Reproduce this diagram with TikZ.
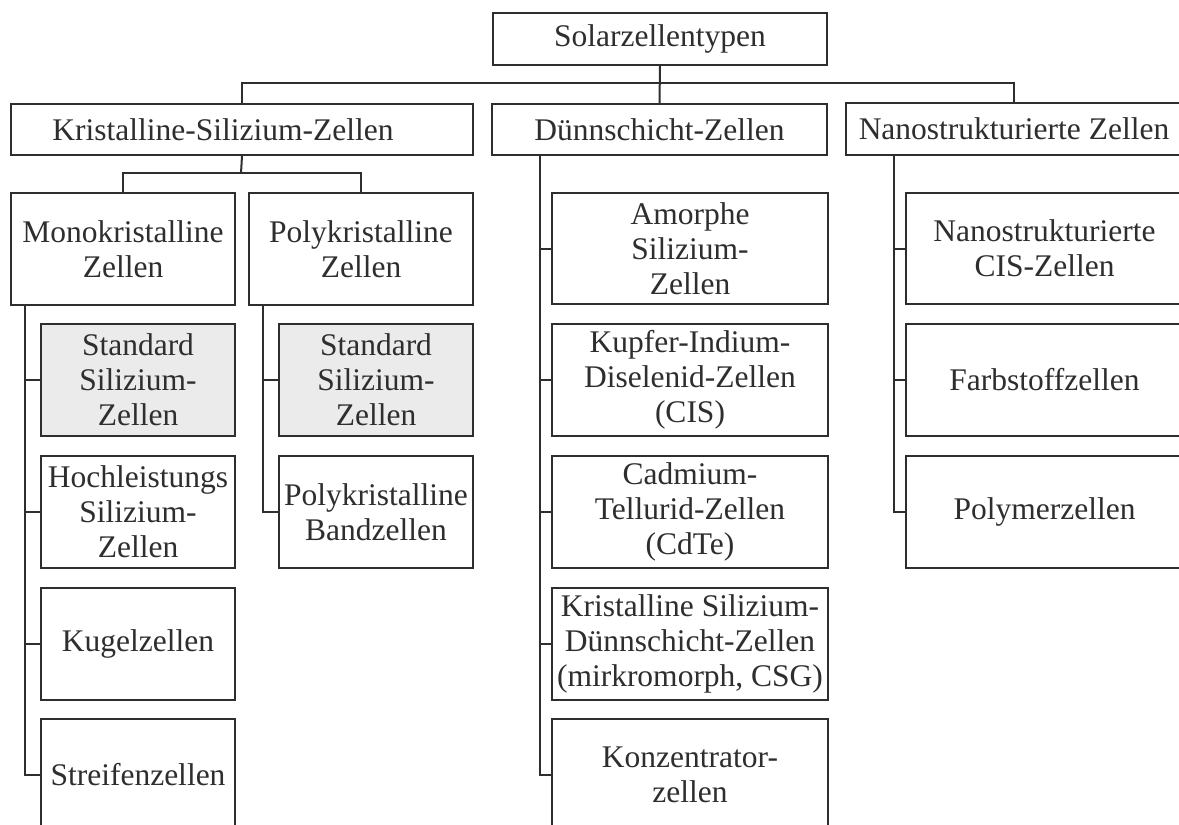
\documentclass[tikz,border=0pt]{standalone}
\usepackage{fontspec}
\setmainfont{Liberation Serif}
\definecolor{ink}{HTML}{2E2E2E}
\definecolor{shade}{HTML}{EAEBEA}
\tikzset{
  box/.style={draw=ink, line width=2pt, fill=white, inner sep=0pt,
    align=center, text=ink, anchor=north west,
    font=\fontsize{31.5}{35}\selectfont},
  shadedbox/.style={box, fill=shade},
  link/.style={draw=ink, line width=2pt},
}
\begin{document}
\begin{tikzpicture}[x=1pt,y=-1pt]
\useasboundingbox (0,0) rectangle (1179,825);
\fill[white] (0,0) rectangle (1179,825);
\clip (0,0) rectangle (1179,825);

% root and first level
\node[box, minimum width=334pt, minimum height=52pt] (top) at (492,12) {Solarzellentypen};
\node[box, minimum width=462pt, minimum height=51pt] (kri) at (10,103) {Kristalline-Silizium-Zellen\hspace*{38pt}};
\node[box, minimum width=335pt, minimum height=51pt] (dun) at (491,103) {Dünnschicht-Zellen};
\node[box, minimum width=336pt, minimum height=52pt] (nano) at (845,102) {Nanostrukturierte Zellen};

% crystalline silicon
\node[box, minimum width=224pt, minimum height=112pt] (mono) at (10,192) {Monokristalline\\Zellen};
\node[box, minimum width=224pt, minimum height=112pt] (poly) at (248,192) {Polykristalline\\Zellen};

\node[shadedbox, minimum width=194pt, minimum height=112pt] (monoA) at (40,323) {Standard\\Silizium-\\Zellen};
\node[box, minimum width=194pt, minimum height=112pt] (monoB) at (40,455) {Hochleistungs\\Silizium-\\Zellen};
\node[box, minimum width=194pt, minimum height=112pt] (monoC) at (40,587) {Kugelzellen};
\node[box, minimum width=194pt, minimum height=112pt] (monoD) at (40,718) {Streifenzellen};

\node[shadedbox, minimum width=194pt, minimum height=112pt] (polyA) at (278,323) {Standard\\Silizium-\\Zellen};
\node[box, minimum width=194pt, minimum height=112pt] (polyB) at (278,455) {Polykristalline\\Bandzellen};

% thin film
\node[box, minimum width=276pt, minimum height=111pt] (dunA) at (551,192) {Amorphe\\Silizium-\\Zellen};
\node[box, minimum width=276pt, minimum height=112pt] (dunB) at (551,323) {Kupfer-Indium-\\Diselenid-Zellen\\(CIS)};
\node[box, minimum width=276pt, minimum height=112pt] (dunC) at (551,455) {Cadmium-\\Tellurid-Zellen\\(CdTe)};
\node[box, minimum width=276pt, minimum height=112pt] (dunD) at (551,587) {Kristalline Silizium-\\Dünnschicht-Zellen\\(mirkromorph, CSG)};
\node[box, minimum width=276pt, minimum height=112pt] (dunE) at (551,718) {Konzentrator-\\zellen};

% nanostructured
\node[box, minimum width=277pt, minimum height=111pt] (nanoA) at (905,192) {Nanostrukturierte\\CIS-Zellen};
\node[box, minimum width=277pt, minimum height=112pt] (nanoB) at (905,323) {Farbstoffzellen};
\node[box, minimum width=277pt, minimum height=112pt] (nanoC) at (905,455) {Polymerzellen};

% tree connectors
\coordinate (hub) at (659,83);
\coordinate (khub) at (241,173);
\draw[link] (top.south) -- (dun.north);
\draw[link] (kri.north) |- (hub) -| (nano.north);
\draw[link] (kri.south) -- (khub);
\draw[link] (mono.north) |- (khub) -| (poly.north);

\coordinate (mroot) at ([xshift=15pt]mono.south west);
\coordinate (proot) at ([xshift=15pt]poly.south west);
\coordinate (droot) at ([xshift=49pt]dun.south west);
\coordinate (nroot) at ([xshift=49pt]nano.south west);

\foreach \c in {monoA,monoB,monoC,monoD} \draw[link] (mroot) |- (\c.west);
\foreach \c in {polyA,polyB} \draw[link] (proot) |- (\c.west);
\foreach \c in {dunA,dunB,dunC,dunD,dunE} \draw[link] (droot) |- (\c.west);
\foreach \c in {nanoA,nanoB,nanoC} \draw[link] (nroot) |- (\c.west);
\end{tikzpicture}
\end{document}
